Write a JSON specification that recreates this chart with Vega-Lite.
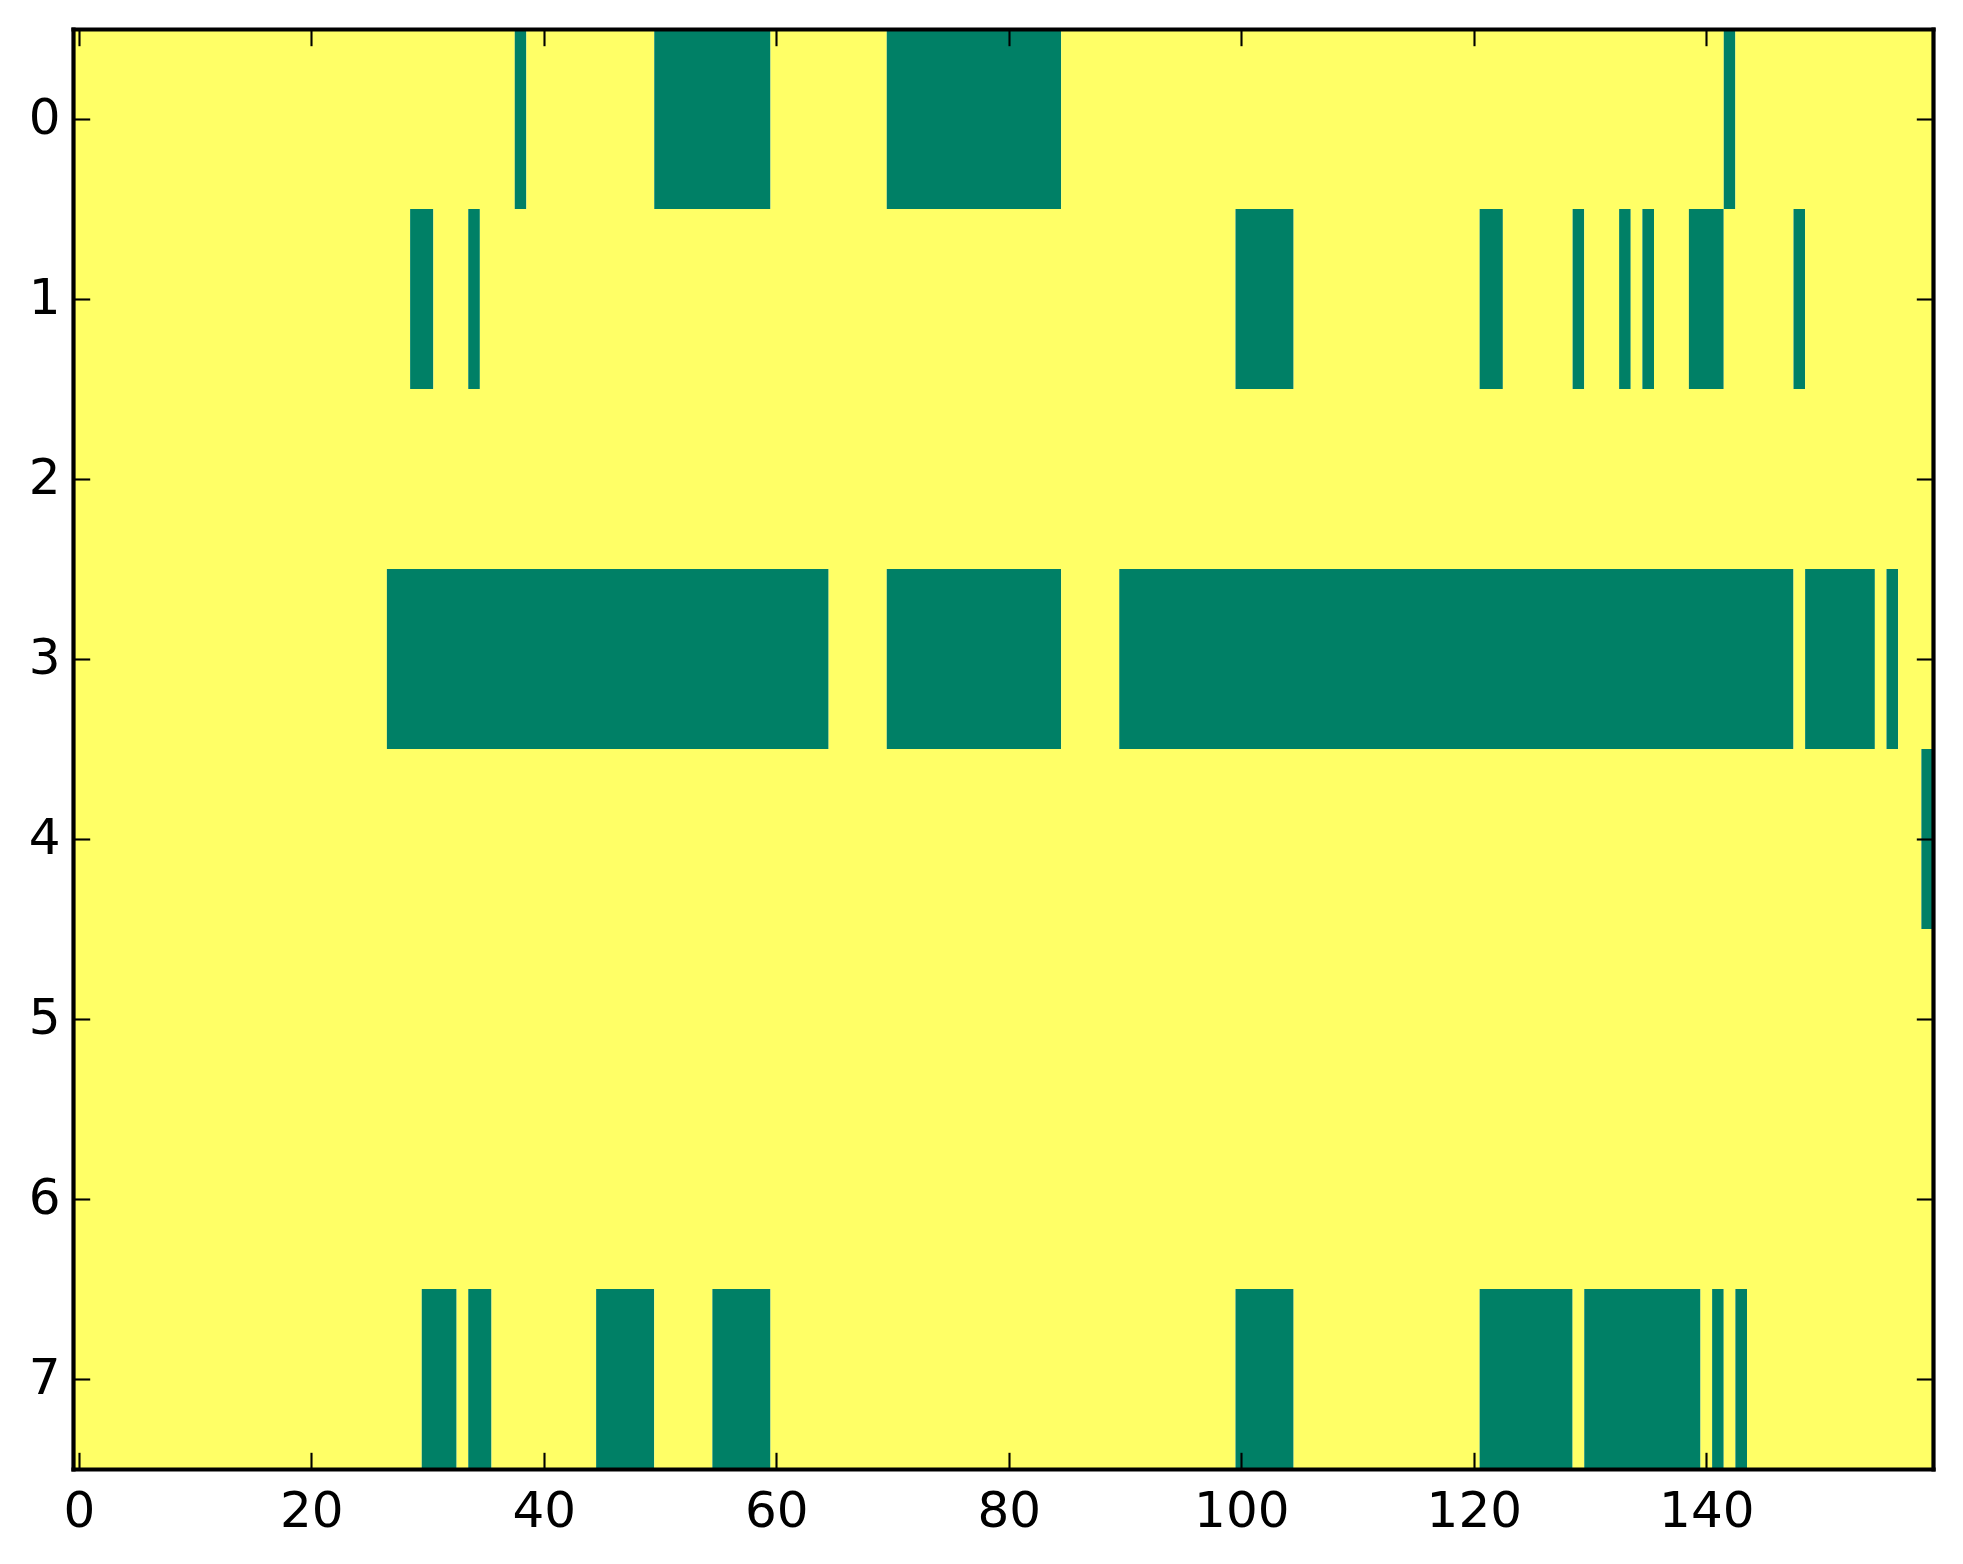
{
  "$schema": "https://vega.github.io/schema/vega-lite/v6.json",
  "width": 1860,
  "height": 1440,
  "autosize": {"type": "none"},
  "padding": {"left": 73, "top": 29, "right": 30, "bottom": 95},
  "background": "white",
  "data": {
    "values": [
      {"row": 0, "start": -0.5, "end": 37.5, "value": 0},
      {"row": 0, "start": 37.5, "end": 38.5, "value": 1},
      {"row": 0, "start": 38.5, "end": 49.5, "value": 0},
      {"row": 0, "start": 49.5, "end": 59.5, "value": 1},
      {"row": 0, "start": 59.5, "end": 69.5, "value": 0},
      {"row": 0, "start": 69.5, "end": 84.5, "value": 1},
      {"row": 0, "start": 84.5, "end": 141.5, "value": 0},
      {"row": 0, "start": 141.5, "end": 142.5, "value": 1},
      {"row": 0, "start": 142.5, "end": 159.5, "value": 0},

      {"row": 1, "start": -0.5, "end": 28.5, "value": 0},
      {"row": 1, "start": 28.5, "end": 30.5, "value": 1},
      {"row": 1, "start": 30.5, "end": 33.5, "value": 0},
      {"row": 1, "start": 33.5, "end": 34.5, "value": 1},
      {"row": 1, "start": 34.5, "end": 99.5, "value": 0},
      {"row": 1, "start": 99.5, "end": 104.5, "value": 1},
      {"row": 1, "start": 104.5, "end": 120.5, "value": 0},
      {"row": 1, "start": 120.5, "end": 122.5, "value": 1},
      {"row": 1, "start": 122.5, "end": 128.5, "value": 0},
      {"row": 1, "start": 128.5, "end": 129.5, "value": 1},
      {"row": 1, "start": 129.5, "end": 132.5, "value": 0},
      {"row": 1, "start": 132.5, "end": 133.5, "value": 1},
      {"row": 1, "start": 133.5, "end": 134.5, "value": 0},
      {"row": 1, "start": 134.5, "end": 135.5, "value": 1},
      {"row": 1, "start": 135.5, "end": 138.5, "value": 0},
      {"row": 1, "start": 138.5, "end": 141.5, "value": 1},
      {"row": 1, "start": 141.5, "end": 147.5, "value": 0},
      {"row": 1, "start": 147.5, "end": 148.5, "value": 1},
      {"row": 1, "start": 148.5, "end": 159.5, "value": 0},

      {"row": 2, "start": -0.5, "end": 159.5, "value": 0},

      {"row": 3, "start": -0.5, "end": 26.5, "value": 0},
      {"row": 3, "start": 26.5, "end": 64.5, "value": 1},
      {"row": 3, "start": 64.5, "end": 69.5, "value": 0},
      {"row": 3, "start": 69.5, "end": 84.5, "value": 1},
      {"row": 3, "start": 84.5, "end": 89.5, "value": 0},
      {"row": 3, "start": 89.5, "end": 147.5, "value": 1},
      {"row": 3, "start": 147.5, "end": 148.5, "value": 0},
      {"row": 3, "start": 148.5, "end": 154.5, "value": 1},
      {"row": 3, "start": 154.5, "end": 155.5, "value": 0},
      {"row": 3, "start": 155.5, "end": 156.5, "value": 1},
      {"row": 3, "start": 156.5, "end": 159.5, "value": 0},

      {"row": 4, "start": -0.5, "end": 158.5, "value": 0},
      {"row": 4, "start": 158.5, "end": 159.5, "value": 1},

      {"row": 5, "start": -0.5, "end": 159.5, "value": 0},

      {"row": 6, "start": -0.5, "end": 159.5, "value": 0},

      {"row": 7, "start": -0.5, "end": 29.5, "value": 0},
      {"row": 7, "start": 29.5, "end": 32.5, "value": 1},
      {"row": 7, "start": 32.5, "end": 33.5, "value": 0},
      {"row": 7, "start": 33.5, "end": 35.5, "value": 1},
      {"row": 7, "start": 35.5, "end": 44.5, "value": 0},
      {"row": 7, "start": 44.5, "end": 49.5, "value": 1},
      {"row": 7, "start": 49.5, "end": 54.5, "value": 0},
      {"row": 7, "start": 54.5, "end": 59.5, "value": 1},
      {"row": 7, "start": 59.5, "end": 99.5, "value": 0},
      {"row": 7, "start": 99.5, "end": 104.5, "value": 1},
      {"row": 7, "start": 104.5, "end": 120.5, "value": 0},
      {"row": 7, "start": 120.5, "end": 128.5, "value": 1},
      {"row": 7, "start": 128.5, "end": 129.5, "value": 0},
      {"row": 7, "start": 129.5, "end": 139.5, "value": 1},
      {"row": 7, "start": 139.5, "end": 140.5, "value": 0},
      {"row": 7, "start": 140.5, "end": 141.5, "value": 1},
      {"row": 7, "start": 141.5, "end": 142.5, "value": 0},
      {"row": 7, "start": 142.5, "end": 143.5, "value": 1},
      {"row": 7, "start": 143.5, "end": 159.5, "value": 0}
    ]
  },
  "layer": [
    {
      "mark": {"type": "rect"},
      "encoding": {
        "x": {
          "field": "start", "type": "quantitative",
          "scale": {"domain": [-0.5, 159.5], "nice": false, "zero": false},
          "axis": {"orient": "bottom", "values": [0, 20, 40, 60, 80, 100, 120, 140], "labelPadding": 34, "labelBaseline": "top", "title": null, "zindex": 2}
        },
        "x2": {"field": "end"},
        "y": {
          "field": "row", "type": "ordinal",
          "scale": {"paddingInner": 0, "paddingOuter": 0},
          "axis": {"orient": "left", "labelPadding": 29.7, "labelAngle": 0, "title": null, "zindex": 2}
        },
        "color": {
          "field": "value", "type": "nominal",
          "scale": {"domain": [0, 1], "range": ["#ffff66", "#008066"]},
          "legend": null
        }
      }
    },
    {
      "mark": {"type": "rect", "opacity": 0},
      "encoding": {
        "x": {
          "field": "start", "type": "quantitative",
          "axis": {"orient": "top", "values": [0, 20, 40, 60, 80, 100, 120, 140], "labels": false, "title": null, "zindex": 2}
        },
        "x2": {"field": "end"},
        "y": {
          "field": "row", "type": "ordinal",
          "axis": {"orient": "right", "labels": false, "title": null, "zindex": 2}
        }
      }
    }
  ],
  "resolve": {"axis": {"x": "independent", "y": "independent"}},
  "config": {
    "font": "DejaVu Sans",
    "view": {"stroke": null},
    "axis": {
      "domain": true,
      "domainColor": "black",
      "domainWidth": 4.2,
      "domainCap": "square",
      "grid": false,
      "ticks": true,
      "tickSize": -16.7,
      "tickWidth": 2.1,
      "tickColor": "black",
      "tickOpacity": 1,
      "labelFont": "DejaVu Sans",
      "labelFontSize": 50,
      "labelColor": "black",
      "labelFlush": false,
      "labelOverlap": false,
      "labelBound": false
    }
  }
}
